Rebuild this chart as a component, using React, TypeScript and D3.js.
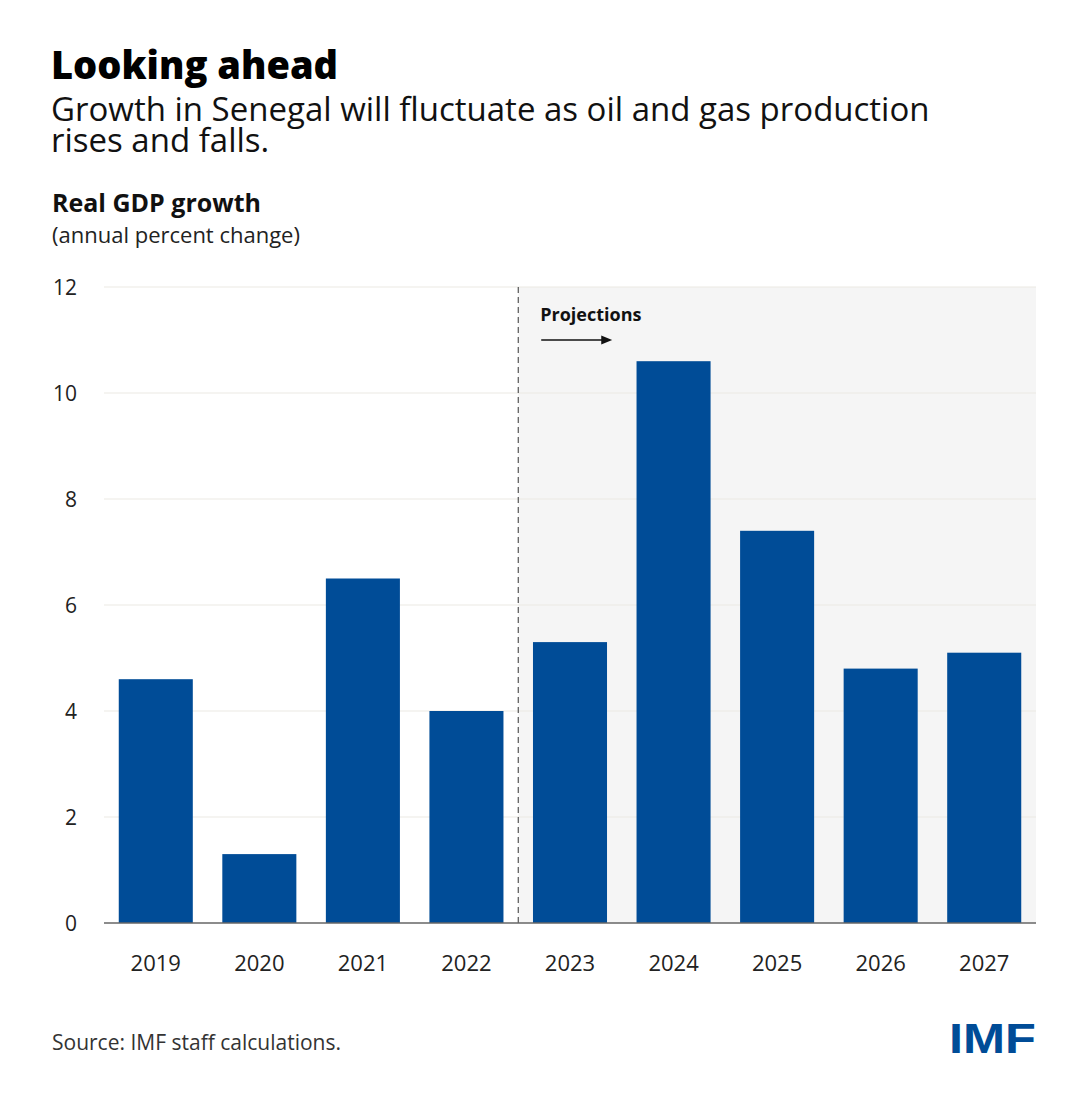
import { useEffect } from "react";
import * as d3 from "d3";

const years = ["2019", "2020", "2021", "2022", "2023", "2024", "2025", "2026", "2027"];
const growth = [4.6, 1.3, 6.5, 4.0, 5.3, 10.6, 7.4, 4.8, 5.1];
const yTicks = [0, 2, 4, 6, 8, 10, 12];
const firstProjection = "2023";

const W = 1074;
const H = 1108;
const FONT = "'Open Sans', Lato, sans-serif";
const BLUE = "#004c97";

export default function App() {
  useEffect(() => {
    document.body.style.margin = "0";
  }, []);

  const plot = { left: 104, right: 1036, top: 287, bottom: 923 };

  const x = d3
    .scaleBand<string>()
    .domain(years)
    .range([plot.left, plot.right])
    .paddingInner(0.285)
    .paddingOuter(0.1425);

  const y = d3.scaleLinear().domain([0, 12]).range([plot.bottom, plot.top]);

  const projIdx = years.indexOf(firstProjection);
  const splitX =
    ((x(years[projIdx - 1]) ?? 0) + x.bandwidth() + (x(firstProjection) ?? 0)) / 2;

  return (
    <svg width={W} height={H} style={{ display: "block", background: "#fff" }} fontFamily={FONT}>
      <text x={51} y={79} fontSize={38} fontWeight={800} fill="#000">
        Looking ahead
      </text>
      <text x={51} y={121} fontSize={33} fill="#111">
        Growth in Senegal will fluctuate as oil and gas production
      </text>
      <text x={51} y={152} fontSize={33} fill="#111">
        rises and falls.
      </text>
      <text x={52} y={212} fontSize={25} fontWeight={700} fill="#111">
        Real GDP growth
      </text>
      <text x={52} y={243} fontSize={22} fill="#222">
        (annual percent change)
      </text>

      {/* projection shading */}
      <rect
        x={splitX}
        y={plot.top}
        width={plot.right - splitX}
        height={plot.bottom - plot.top}
        fill="#f5f5f5"
      />

      {yTicks.map((t) => (
        <g key={t}>
          {t > 0 && (
            <line x1={plot.left} x2={plot.right} y1={y(t)} y2={y(t)} stroke="#ebe9e3" strokeWidth={1} />
          )}
          <text x={77} y={y(t)} dy="0.36em" textAnchor="end" fontSize={21} fill="#222">
            {t}
          </text>
        </g>
      ))}

      <line
        x1={splitX}
        x2={splitX}
        y1={plot.top}
        y2={plot.bottom}
        stroke="#333"
        strokeWidth={1}
        strokeDasharray="6,4"
      />

      {years.map((yr, i) => (
        <rect
          key={yr}
          x={x(yr)}
          y={y(growth[i])}
          width={x.bandwidth()}
          height={y(0) - y(growth[i])}
          fill={BLUE}
        />
      ))}

      <line x1={plot.left} x2={plot.right} y1={y(0)} y2={y(0)} stroke="#666" strokeWidth={1.5} />

      {years.map((yr) => (
        <text
          key={yr}
          x={(x(yr) ?? 0) + x.bandwidth() / 2}
          y={971}
          textAnchor="middle"
          fontSize={22}
          fill="#222"
        >
          {yr}
        </text>
      ))}

      <text x={splitX + 22} y={321} fontSize={18} fontWeight={700} fill="#111">
        Projections
      </text>
      <line x1={splitX + 23} x2={splitX + 84} y1={340} y2={340} stroke="#111" strokeWidth={1.5} />
      <path
        d={`M${splitX + 94},340 L${splitX + 83},335.5 L${splitX + 83},344.5 Z`}
        fill="#111"
      />

      <text x={52} y={1050} fontSize={21} fill="#333">
        Source: IMF staff calculations.
      </text>
      <text
        x={949}
        y={1053}
        fontSize={43}
        fontWeight={900}
        fill={BLUE}
        fontFamily="'Liberation Sans', Arial, sans-serif"
        textLength={87}
        lengthAdjust="spacingAndGlyphs"
      >
        IMF
      </text>
    </svg>
  );
}
